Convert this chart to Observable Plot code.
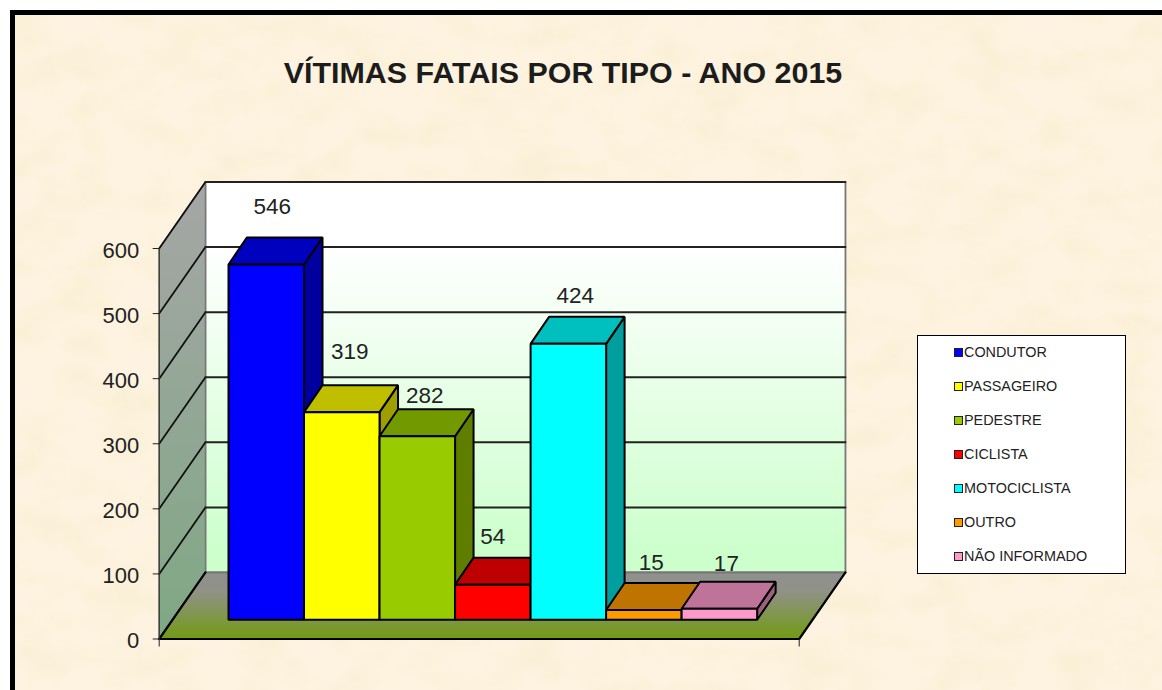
<!DOCTYPE html>
<html lang="pt">
<head>
<meta charset="utf-8">
<title>VÍTIMAS FATAIS POR TIPO - ANO 2015</title>
<script src="https://cdn.jsdelivr.net/npm/d3@7"></script>
<script src="https://cdn.jsdelivr.net/npm/@observablehq/plot@0.6"></script>
<style>
  html, body { margin: 0; padding: 0; background: #fff; overflow: hidden; }
  #page { position: relative; width: 1162px; height: 690px; overflow: hidden; font-family: "Liberation Sans", Arial, sans-serif; }
  #panel {
    position: absolute; left: 10px; top: 10px; width: 1160px; height: 690px;
    box-sizing: border-box; border: 5px solid #000; background-color: #fef3e0;
    background-image: url("data:image/svg+xml;utf8,<svg xmlns='http://www.w3.org/2000/svg' width='1160' height='690'><filter id='n' x='0' y='0' width='100%' height='100%'><feTurbulence type='fractalNoise' baseFrequency='0.022 0.03' numOctaves='3' seed='11'/><feColorMatrix type='matrix' values='0 0 0 0 0.96  0 0 0 0 0.87  0 0 0 0 0.68  2.6 0 0 0 -1.02'/></filter><rect width='1160' height='690' filter='url(%23n)'/></svg>");
  }
  #title { position: absolute; left: 0; width: 1126px; top: 53px; margin: 0; text-align: center; font-size: 30.4px; line-height: 38px; font-weight: bold; color: #1c1c1c; }
  #chart { position: absolute; left: 0; top: 0; }
  #legend { position: absolute; left: 917px; top: 335px; width: 209px; height: 239px; box-sizing: border-box; border: 1px solid #000; background: #fff; }
  .item { position: absolute; left: 35.5px; height: 16px; display: flex; align-items: center; font-size: 14.4px; color: #222; white-space: nowrap; }
  .swatch { width: 7px; height: 7px; border: 1px solid #222; margin-right: 1.5px; }
</style>
</head>
<body>
<div id="page">
  <div id="panel"></div>
  <h1 id="title">VÍTIMAS FATAIS POR TIPO - ANO 2015</h1>
  <div id="chart"></div>
  <div id="legend"></div>
</div>
<script>
// Data
const categories = ["CONDUTOR", "PASSAGEIRO", "PEDESTRE", "CICLISTA", "MOTOCICLISTA", "OUTRO", "NÃO INFORMADO"];
const values = [546, 319, 282, 54, 424, 15, 17];
const colors = ["#0000ff", "#ffff00", "#99cc00", "#ff0000", "#00ffff", "#ff9900", "#ff99cc"];
const yTicks = [0, 100, 200, 300, 400, 500, 600];

// Layout of the 3-D box, in scale units (x: category slots, y: value units)
const wallDx = 0.506, wallDy = 102.2;
const barStart = 0.758, barWidth = 0.826, barBase = 29.5, barDx = 0.2023, barDy = 41.5;
// Value-label placement, in pixels (Excel's placement is irregular)
const labelDx = [6, 8, 7.5, 0, 7, 7.5, 7];
const labelGap = [23, 26, 6, 14, 14, 13, 11];

const pts = (...p) => p.map(([x, y]) => ({x, y}));
const shade = (c, k) => { const r = d3.rgb(c); return d3.rgb(r.r * k, r.g * k, r.b * k).formatHex(); };
const face = (p, o) => Plot.line(pts(...p), {x: "x", y: "y", curve: "linear-closed", ...o});
const path = (p, o) => Plot.line(pts(...p), {x: "x", y: "y", ...o});

const defs = () => {
  const ns = "http://www.w3.org/2000/svg";
  const d = document.createElementNS(ns, "defs");
  d.innerHTML = `
    <linearGradient id="gBack" x1="0" y1="0" x2="0" y2="1">
      <stop offset="0.165" stop-color="#ffffff"/><stop offset="0.95" stop-color="#ccffcc"/><stop offset="1" stop-color="#ccffcc"/>
    </linearGradient>
    <linearGradient id="gSide" x1="0" y1="0" x2="0" y2="1">
      <stop offset="0" stop-color="#a6a6a6"/><stop offset="1" stop-color="#7fa884"/>
    </linearGradient>
    <linearGradient id="gFloor" x1="0" y1="0" x2="0" y2="1">
      <stop offset="0" stop-color="#909090"/><stop offset="0.3" stop-color="#8f9285"/><stop offset="1" stop-color="#729b12"/>
    </linearGradient>`;
  return d;
};

const n = categories.length;
const walls = [
  face([[wallDx, wallDy], [n + wallDx, wallDy], [n + wallDx, 600 + wallDy], [wallDx, 600 + wallDy]], {fill: "url(#gBack)", stroke: "#777", strokeWidth: 1.8}),
  face([[0, 0], [wallDx, wallDy], [wallDx, 600 + wallDy], [0, 600]], {fill: "url(#gSide)", stroke: "#777", strokeWidth: 1.4}),
  face([[0, 0], [n, 0], [n + wallDx, wallDy], [wallDx, wallDy]], {fill: "url(#gFloor)", stroke: "none"})
];
const grid = yTicks.slice(1).flatMap((v) => [
  path([[0, v], [wallDx, v + wallDy]], {stroke: "#111", strokeWidth: 1.8}),
  path([[wallDx, v + wallDy], [n + wallDx, v + wallDy]], {stroke: "#222", strokeWidth: 2})
]);
const edges = [
  path([[wallDx, wallDy], [n + wallDx, wallDy]], {stroke: "#777", strokeWidth: 1.8}),
  path([[wallDx, wallDy], [0, 0], [n, 0], [n + wallDx, wallDy]], {stroke: "#000", strokeWidth: 2.2}),
  path([[0, 0], [0, 600]], {stroke: "#333", strokeWidth: 1.2})
];

const bars = values.flatMap((v, i) => {
  const x0 = barStart + i * barWidth, x1 = x0 + barWidth;
  const y0 = barBase, y1 = barBase + v;
  const s = {stroke: "#000", strokeWidth: 2, strokeLinejoin: "miter"};
  return [
    face([[x1, y0], [x1 + barDx, y0 + barDy], [x1 + barDx, y1 + barDy], [x1, y1]], {fill: shade(colors[i], 0.62), ...s}),
    face([[x0, y1], [x1, y1], [x1 + barDx, y1 + barDy], [x0 + barDx, y1 + barDy]], {fill: shade(colors[i], 0.75), ...s}),
    face([[x0, y0], [x1, y0], [x1, y1], [x0, y1]], {fill: colors[i], ...s})
  ];
});

const labels = values.map((v, i) =>
  Plot.text([v], {
    x: () => barStart + (i + 0.5) * barWidth,
    y: (d) => barBase + d + barDy,
    text: (d) => String(d),
    dx: labelDx[i], dy: -labelGap[i],
    lineAnchor: "bottom", textAnchor: "middle",
    fontSize: 22.5, fill: "#222"
  })
);

const chart = Plot.plot({
  width: 1162, height: 690,
  marginLeft: 158.7, marginRight: 363.3, marginTop: 248, marginBottom: 51.5,
  style: {background: "transparent", maxWidth: "none", fontFamily: '"Liberation Sans", Arial, sans-serif'},
  x: {domain: [0, n], label: null},
  y: {domain: [0, 600], label: null},
  marks: [
    defs,
    ...walls, ...grid, ...edges, ...bars, ...labels,
    Plot.axisY({ticks: yTicks, tickSize: 6, tickFormat: () => "", label: null, stroke: "#222"}),
    Plot.axisY({ticks: yTicks, tickSize: 0, tickPadding: 20, dy: 2, fontSize: 22, label: null, fill: "#222"}),
    Plot.axisX({ticks: [0, n], tickSize: 8, tickFormat: () => "", label: null, stroke: "#222"})
  ]
});
document.getElementById("chart").append(chart);

// Legend
const legend = d3.select("#legend");
categories.forEach((c, i) => {
  const item = legend.append("div").attr("class", "item").style("top", `${8 + i * 34}px`);
  item.append("div").attr("class", "swatch").style("background", colors[i]);
  item.append("span").text(c);
});
</script>
</body>
</html>
